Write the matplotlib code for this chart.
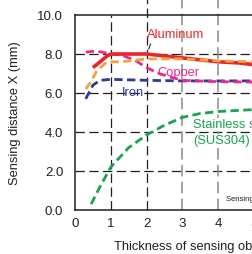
import matplotlib
matplotlib.use("Agg")
import matplotlib.pyplot as plt

plt.rcParams['font.family'] = ['Liberation Sans', 'DejaVu Sans']

# curves (thickness mm -> sensing distance mm)
al_x = [0.5, 0.7, 0.9, 1.0, 1.5, 2.0, 2.5, 3.0, 4.0, 4.6, 5.0, 5.5]
al_y = [7.3, 7.6, 7.9, 8.0, 8.0, 8.0, 7.9, 7.8, 7.6, 7.54, 7.45, 7.4]
brass_x = [0.3, 0.45, 0.6, 0.8, 0.9, 1.3, 2.0, 3.0, 4.0, 5.0, 5.5]
brass_y = [6.2, 6.6, 7.1, 7.45, 7.6, 7.6, 7.75, 7.75, 7.65, 7.6, 7.55]
cu_x = [0.3, 0.6, 1.0, 1.3, 1.7, 2.0, 2.35, 2.6, 3.0, 4.0, 5.0, 5.5]
cu_y = [8.1, 8.15, 8.0, 7.95, 7.65, 7.3, 7.0, 6.85, 6.65, 6.58, 6.56, 6.56]
fe_x = [0.3, 0.5, 0.7, 1.0, 2.0, 3.0, 4.0, 5.0, 5.5]
fe_y = [5.7, 6.4, 6.65, 6.7, 6.65, 6.62, 6.62, 6.62, 6.62]
sus_x = [0.45, 0.7, 1.0, 1.2, 1.5, 2.0, 2.5, 3.0, 3.5, 4.0, 5.0, 5.5]
sus_y = [0.3, 1.2, 2.2, 2.6, 3.2, 3.85, 4.35, 4.75, 4.95, 5.05, 5.15, 5.2]

y_ticks = [0, 2, 4, 6, 8, 10]
y_labels = ['0.0', '2.0', '4.0', '6.0', '8.0', '10.0']
x_ticks = [0, 1, 2, 3, 4, 5]

W, H = 252, 255
fig = plt.figure(figsize=(W / 100, H / 100), dpi=100)
x0, x1 = 75, 75 + 6 * 35.8
y0, y1 = 211, 16
ax = fig.add_axes([x0 / W, 1 - y0 / H, (x1 - x0) / W, (y0 - y1) / H])
ax.set_xlim(0, 6)
ax.set_ylim(0, 10)

txt = '#231f20'
for s in ['left', 'bottom', 'top']:
    ax.spines[s].set_linewidth(1.1)
    ax.spines[s].set_color(txt)
ax.spines['right'].set_visible(False)

# grid
for yv in [2, 4, 6, 8]:
    ax.axhline(yv, color=txt, lw=0.9, dashes=(7.5, 3.5), zorder=1)
ax.axvline(1, color=txt, lw=0.9, dashes=(7.5, 3.5), zorder=1)
ax.axvline(2, ymax=1.08, color=txt, lw=0.9, dashes=(7.5, 3.5), zorder=1, clip_on=False)
for xv in [3, 4]:
    ax.axvline(xv, ymax=1.08, color='#8a8a8a', lw=1.1, dashes=(7.5, 3.5), zorder=1, clip_on=False)

ax.plot(sus_x, sus_y, color='#17a550', lw=2.0, dashes=(3, 1.6), zorder=3)
ax.plot(fe_x, fe_y, color='#2e3a96', lw=2.0, dashes=(3, 1.6), zorder=3)
ax.plot(cu_x, cu_y, color='#ea2a8c', lw=2.0, dashes=(3, 1.6), zorder=3)
ax.plot(al_x, al_y, color='#e8262c', lw=2.6, solid_capstyle='butt', zorder=4)
ax.plot(brass_x, brass_y, color='#f4a23a', lw=2.0, dashes=(3, 1.6), zorder=5)

ax.set_yticks(y_ticks)
ax.set_yticklabels(y_labels)
ax.set_xticks(x_ticks)
ax.tick_params(axis='y', length=0, pad=8.5, labelsize=9.5, labelcolor=txt)
ax.tick_params(axis='x', length=0, pad=5, labelsize=9.5, labelcolor=txt)

fs = 9.3
bg = dict(facecolor='white', edgecolor='none', pad=0.5)
ax.text(2.0, 9.05, 'Aluminum', color='#e8262c', fontsize=fs, va='center', ha='left')
ax.annotate('', xy=(2.03, 8.12), xytext=(2.14, 8.65),
            arrowprops=dict(arrowstyle='-', color=txt, lw=0.8))
ax.text(2.3, 7.1, 'Copper', color='#ea2a8c', fontsize=fs, va='center', ha='left')
ax.text(1.32, 6.05, 'Iron', color='#2e3a96', fontsize=fs, va='center', ha='left')
ax.text(3.29, 4.4, 'Stainless steel', color='#17a550', fontsize=fs, va='center', ha='left',
        bbox=bg, zorder=6)
ax.text(3.29, 3.58, '(SUS304)', color='#17a550', fontsize=fs, va='center', ha='left',
        bbox=bg, zorder=6)
ax.text(4.22, 0.6, 'Sensing object', color=txt, fontsize=5.5, va='center', ha='left')

fig.text(15 / W, 1 - 113 / H, 'Sensing distance X (mm)', rotation=90, color=txt,
         fontsize=9.3, ha='center', va='center')
fig.text(114 / W, 1 - 247 / H, 'Thickness of sensing object t (mm)', color=txt,
         fontsize=9.3, ha='left', va='center')

fig.savefig('out.png', dpi=100)
